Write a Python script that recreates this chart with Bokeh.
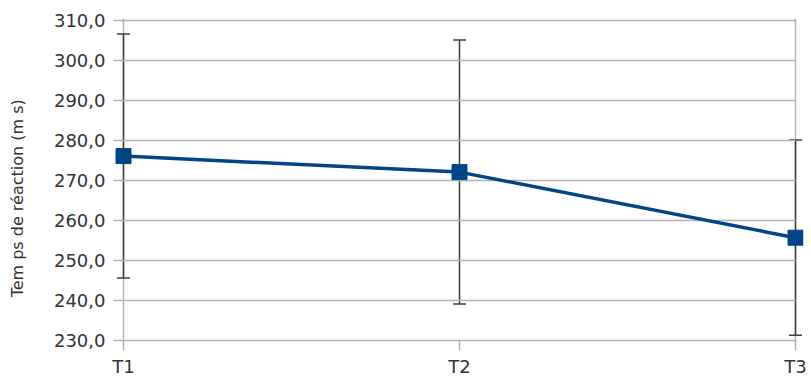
from bokeh.plotting import figure
from bokeh.models import ColumnDataSource, Range1d, FixedTicker, Whisker, TeeHead, Span
from bokeh.embed import file_html
from bokeh.resources import INLINE

# ---- data ----
categories = ["T1", "T2", "T3"]
means = [276.1, 272.1, 255.7]
errors = [30.5, 33.0, 24.4]
y_ticks = [230, 240, 250, 260, 270, 280, 290, 300, 310]
y_tick_labels = ["230,0", "240,0", "250,0", "260,0", "270,0", "280,0", "290,0", "300,0", "310,0"]
y_title = "Tem ps de réaction (m s)"

xs = list(range(len(categories)))
x_last = xs[-1]
src = ColumnDataSource(dict(
    x=xs, y=means,
    upper=[m + e for m, e in zip(means, errors)],
    lower=[m - e for m, e in zip(means, errors)],
))

BLUE = "#004586"
GRID = "#b3b3b3"
TXT = "#333333"
FONT = "DejaVu Sans"

# paddings (in data units) so that edge markers are not clipped
PX_PER_UNIT = 336.0
pad_l = 10 / PX_PER_UNIT
pad_r = 8 / PX_PER_UNIT

p = figure(width=811, height=380, output_backend="svg", toolbar_location=None,
           x_range=Range1d(xs[0] - pad_l, x_last + pad_r),
           y_range=Range1d(y_ticks[0] - 0.5, y_ticks[-1] + 0.5),
           min_border_left=113, min_border_right=8, min_border_top=18, min_border_bottom=38)

p.outline_line_color = None
p.background_fill_color = "white"
p.border_fill_color = "white"

# axes
p.xaxis.ticker = FixedTicker(ticks=xs)
p.xaxis.major_label_overrides = {i: c for i, c in zip(xs, categories)}
p.yaxis.ticker = FixedTicker(ticks=y_ticks)
p.yaxis.major_label_overrides = {t: l for t, l in zip(y_ticks, y_tick_labels)}

for ax in (p.xaxis[0], p.yaxis[0]):
    ax.axis_line_color = None
    ax.major_tick_line_color = GRID
    ax.major_tick_line_width = 1.5
    ax.minor_tick_line_color = None
    ax.major_label_text_font = FONT
    ax.major_label_text_font_size = "18px"
    ax.major_label_text_color = TXT

p.xaxis.major_tick_out = 8
p.xaxis.major_tick_in = 2
p.xaxis.major_label_standoff = 5
p.yaxis.major_tick_out = 0
p.yaxis.major_tick_in = 0
p.yaxis.major_tick_line_color = None
p.yaxis.major_label_standoff = 8

# axis title (trailing no-break spaces shift the centred text downwards)
p.yaxis.axis_label = y_title + "\u00a0" * 7
p.yaxis.axis_label_text_font = FONT
p.yaxis.axis_label_text_font_size = "16px"
p.yaxis.axis_label_text_font_style = "normal"
p.yaxis.axis_label_text_color = TXT
p.yaxis.axis_label_standoff = 24

p.xgrid.grid_line_color = None
p.ygrid.grid_line_color = None

# horizontal grid lines (extending left of the axis like tick marks)
p.segment(x0=[xs[0] - pad_l] * len(y_ticks), x1=[x_last] * len(y_ticks),
          y0=y_ticks, y1=y_ticks, line_color=GRID, line_width=1.5)
# left axis line and right border
p.add_layout(Span(location=xs[0], dimension="height", line_color=GRID, line_width=1.5, level="underlay"))
p.add_layout(Span(location=x_last, dimension="height", line_color=GRID, line_width=1.5, level="underlay"))

# line + markers
p.line("x", "y", source=src, line_color=BLUE, line_width=3.5)
p.scatter("x", "y", source=src, marker="square", size=15, fill_color=BLUE, line_color=BLUE)

# error bars
ERR = "#3c3c3c"
w = Whisker(source=src, base="x", upper="upper", lower="lower",
            line_color=ERR, line_width=1.5,
            upper_head=TeeHead(size=13, line_color=ERR, line_width=1.5),
            lower_head=TeeHead(size=13, line_color=ERR, line_width=1.5))
p.add_layout(w)

open("out.html", "w").write(file_html(p, INLINE))
